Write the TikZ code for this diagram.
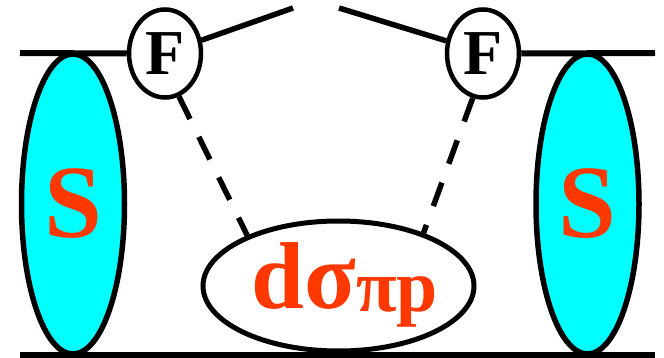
\documentclass[tikz,border=0pt]{standalone}
\usepackage{fontspec}
\setmainfont{Liberation Serif}
\usetikzlibrary{shapes.geometric}
\definecolor{sred}{RGB}{255,56,0}
\definecolor{scyan}{RGB}{0,255,255}
\tikzset{
  rail/.style={line width=6pt},
  blob/.style={ellipse, draw, line width=5.5pt, fill=scyan, inner sep=0pt,
    minimum width=103pt, minimum height=300pt, text=sred,
    font=\fontsize{104}{104}\selectfont\bfseries},
  ffactor/.style={ellipse, draw, line width=4.5pt, fill=white, inner sep=0pt,
    minimum width=72pt, minimum height=88pt,
    font=\fontsize{64}{64}\selectfont\bfseries},
  xsec/.style={ellipse, draw, line width=5pt, fill=white, inner sep=0pt,
    minimum width=271pt, minimum height=130pt},
  leg/.style={line width=5.5pt},
  pion/.style={line width=5.5pt, dash pattern=on 25pt off 20pt}
}
\begin{document}
\begin{tikzpicture}[x=1pt, y=-1pt]
\useasboundingbox (0,0) rectangle (664,358);
% beam lines
\coordinate (tl) at (20,53);
\coordinate (tr) at (655,53);
\coordinate (bl) at (20,355);
\coordinate (br) at (655,355);
\node[ffactor] (fl) at (165,53.5) {F};
\node[ffactor] (fr) at (483,53.5) {F};
\draw[rail] (tl) -- (fl.west);
\draw[rail] (fr.east) -- (tr);
\draw[rail] (bl) -- (br);
% hadron blobs
\node[blob] (sl) at (73,204) {S};
\node[blob] (sr) at (587.5,204) {S};
% central cross section
\node[xsec] (cs) at (338.5,286) {};
\node[text=sred, font=\bfseries] (cst) at (345,285)
  {\fontsize{95}{95}\selectfont dσ\raisebox{-3pt}{\fontsize{74}{74}\selectfont πp}};
% outgoing legs
\coordinate (ol) at (293,8);
\coordinate (or) at (339,8);
\draw[leg] (fl.20) -- (ol);
\draw[leg] (or) -- (fr.161);
% exchanged pions
\draw[pion] (fl.-72) -- (cs.151);
\draw[pion] (fr.-103) -- (cs.32);
\end{tikzpicture}
\end{document}
